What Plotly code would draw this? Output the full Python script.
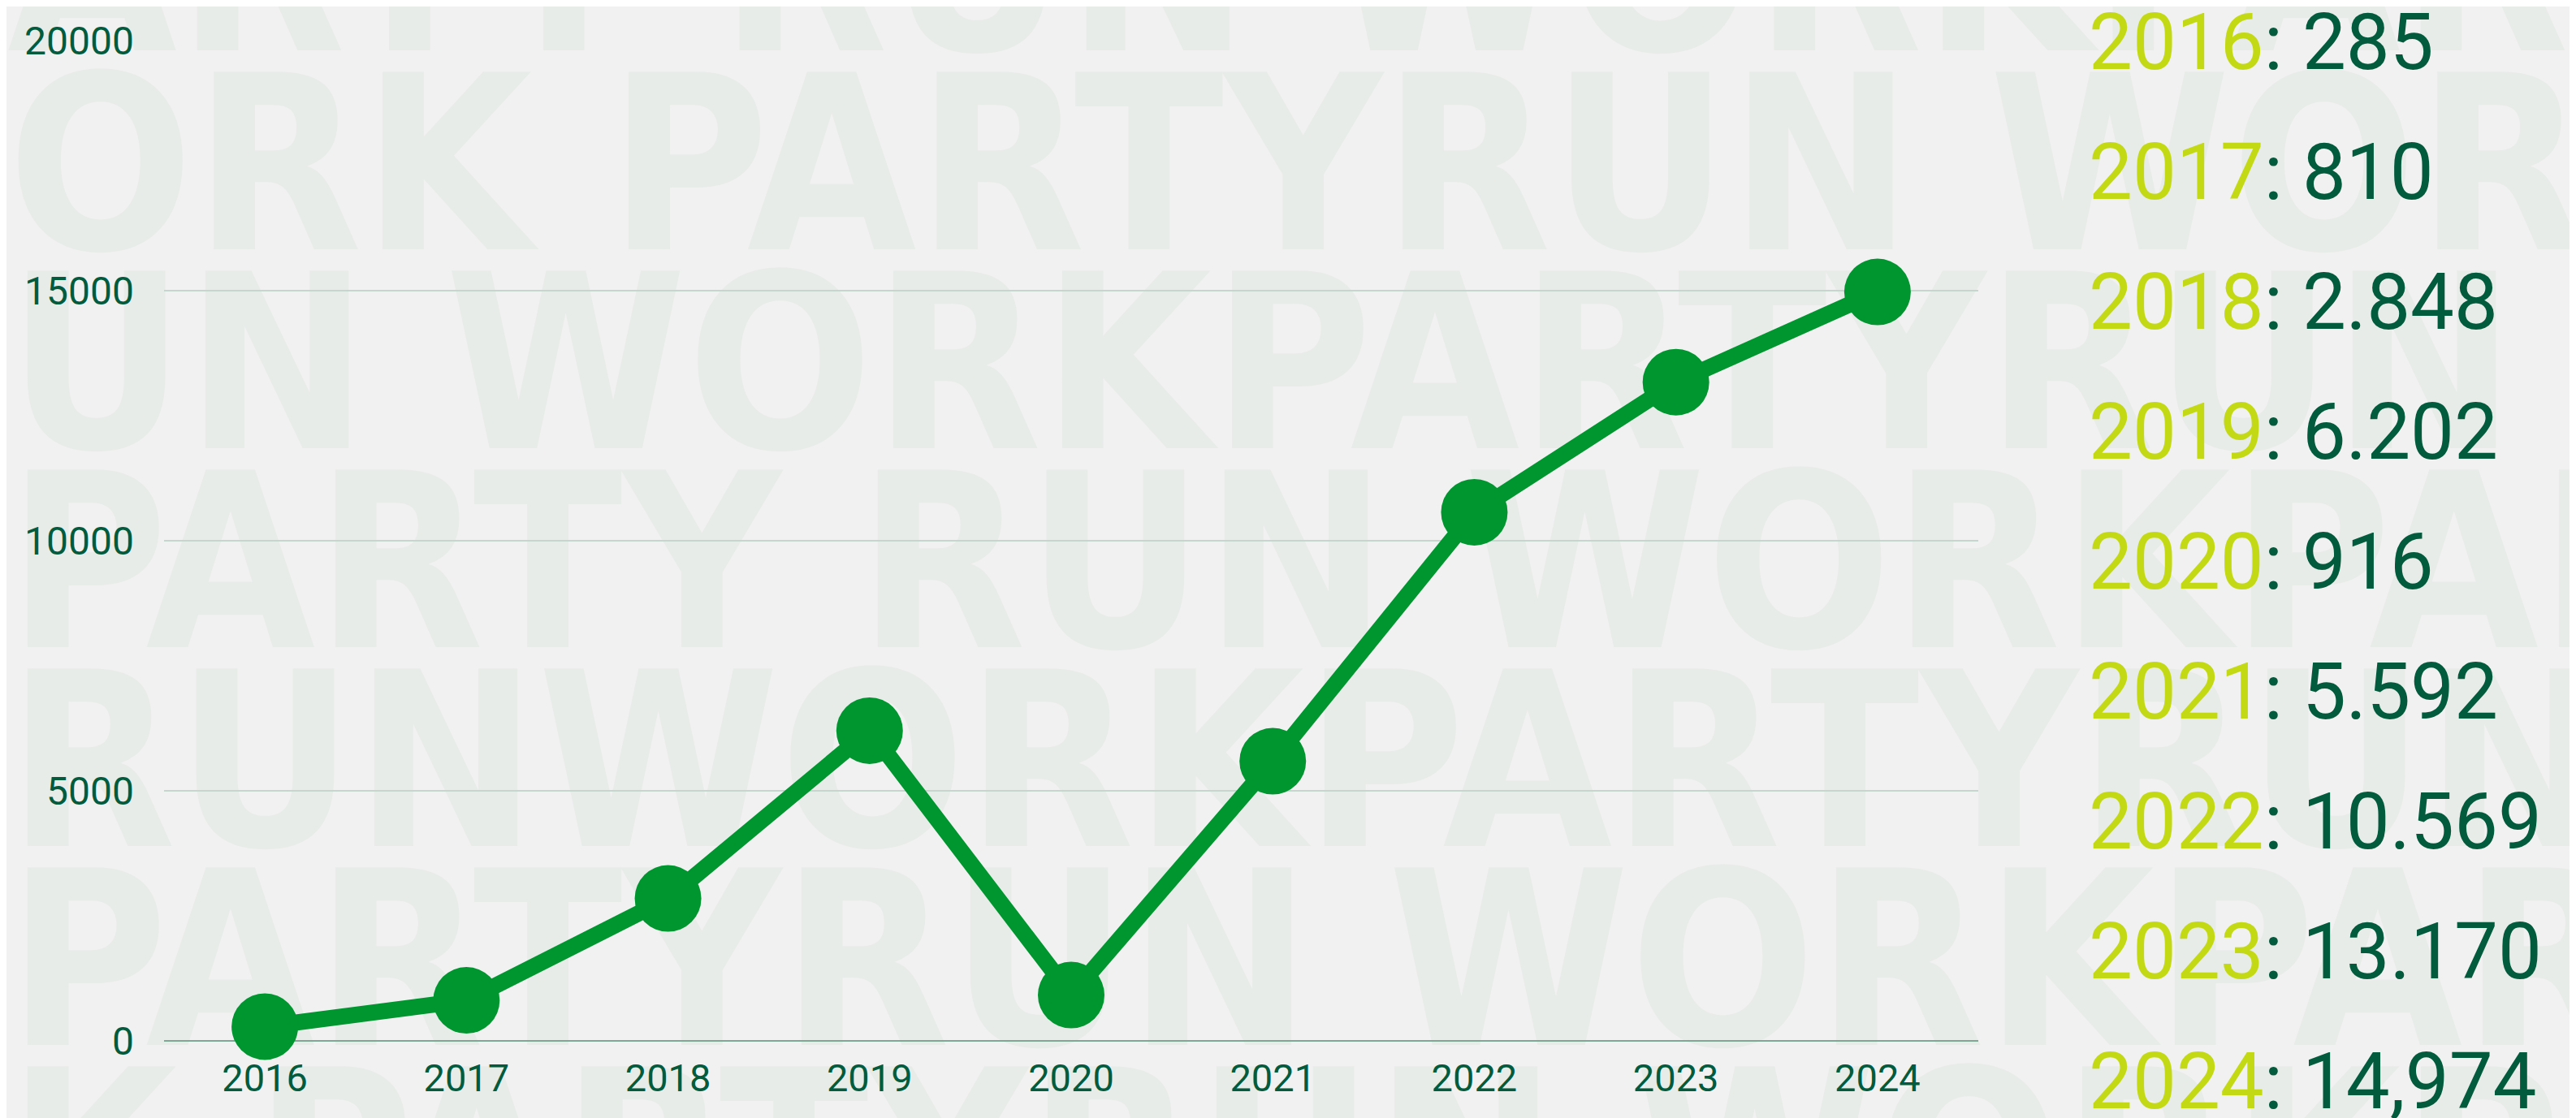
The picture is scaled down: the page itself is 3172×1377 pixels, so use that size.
import plotly.graph_objects as go

years = ["2016", "2017", "2018", "2019", "2020", "2021", "2022", "2023", "2024"]
participants = [285, 810, 2848, 6202, 916, 5592, 10569, 13170, 14974]
value_labels = ["285", "810", "2.848", "6.202", "916", "5.592", "10.569", "13.170", "14,974"]
y_ticks = [0, 5000, 10000, 15000, 20000]

watermark_rows = [
    "ARTY RUN WORKPARTY RUN WORKPARTY RUN WORK",
    "ORK PARTYRUN WORKPARTYRUN WORKPARTYRUN W",
    "UN WORKPARTYRUN WORKPARTYRUN WORKPARTY",
    "PARTY RUN WORKPARTYRUN WORKPARTY RUN",
    "RUNWORKPARTYRUN WORKPARTYRUN WORK",
    "PARTYRUN WORKPARTYRUN WORKPARTYRUN",
    "K PARTYRUN WORKPARTYRUN WORKPARTY",
]

W, H = 3172, 1377
OFF = 8  # page offset compensation
BG = "#f1f1f1"
WM = "#e8ece9"
LINE = "#00962f"
DARK = "#035b3e"
LIME = "#c3d914"

fig = go.Figure()

# decorative background watermark (drawn on a full-page helper subplot, beneath the chart)
row_top0 = -125
pitch = 245
wm_y = [row_top0 + i * pitch + 112 - OFF for i in range(len(watermark_rows))]
fig.add_trace(go.Scatter(
    x=[1] * len(watermark_rows), y=wm_y, text=watermark_rows,
    mode="text", textposition="middle right",
    textfont=dict(family="Liberation Sans Narrow, DejaVu Sans Condensed, Roboto", size=300,
                  color=WM, weight="bold"),
    xaxis="x", yaxis="y", cliponaxis=True, hoverinfo="skip",
))

fig.add_trace(go.Scatter(
    x=years, y=participants, mode="lines+markers",
    line=dict(color=LINE, width=20),
    marker=dict(color=LINE, size=82),
    xaxis="x2", yaxis="y2",
    cliponaxis=False, hoverinfo="skip",
))

annotations = []
for i, (yr, val) in enumerate(zip(years, value_labels)):
    cy = 52 + i * 160 - OFF
    annotations.append(dict(
        text=f"<span style='color:{LIME}'>{yr}</span>: {val}",
        xref="paper", yref="paper", x=(2570 - OFF) / W, y=1 - cy / H,
        xanchor="left", yanchor="middle", showarrow=False,
        font=dict(family="Roboto", size=96, color=DARK),
    ))

fig.update_layout(
    width=W, height=H,
    margin=dict(l=0, r=0, t=0, b=0, pad=0, autoexpand=False),
    paper_bgcolor=BG, plot_bgcolor="rgba(0,0,0,0)",
    showlegend=False,
    annotations=annotations,
    xaxis=dict(domain=[0, 1], range=[0, W], visible=False, fixedrange=True),
    yaxis=dict(domain=[0, 1], range=[H, 0], visible=False, fixedrange=True),
    xaxis2=dict(
        domain=[(202 - OFF) / W, (2436 - OFF) / W], anchor="y2", type="category", range=[-0.5, 8.5],
        showgrid=False, showline=False, zeroline=False, ticks="",
        tickfont=dict(family="Roboto", size=47, color=DARK),
        ticklabelstandoff=14,
    ),
    yaxis2=dict(
        domain=[1 - (1282 - OFF) / H, 1 - (50 - OFF) / H], anchor="x2", range=[0, 20000],
        tickvals=y_ticks, tickformat="d",
        showgrid=True, gridcolor="#c4d6ce", gridwidth=2,
        zeroline=True, zerolinecolor="#7da896", zerolinewidth=2,
        showline=False, ticks="",
        tickfont=dict(family="Roboto", size=48, color=DARK),
        ticklabelstandoff=36,
    ),
)

fig.write_html("out.html")
